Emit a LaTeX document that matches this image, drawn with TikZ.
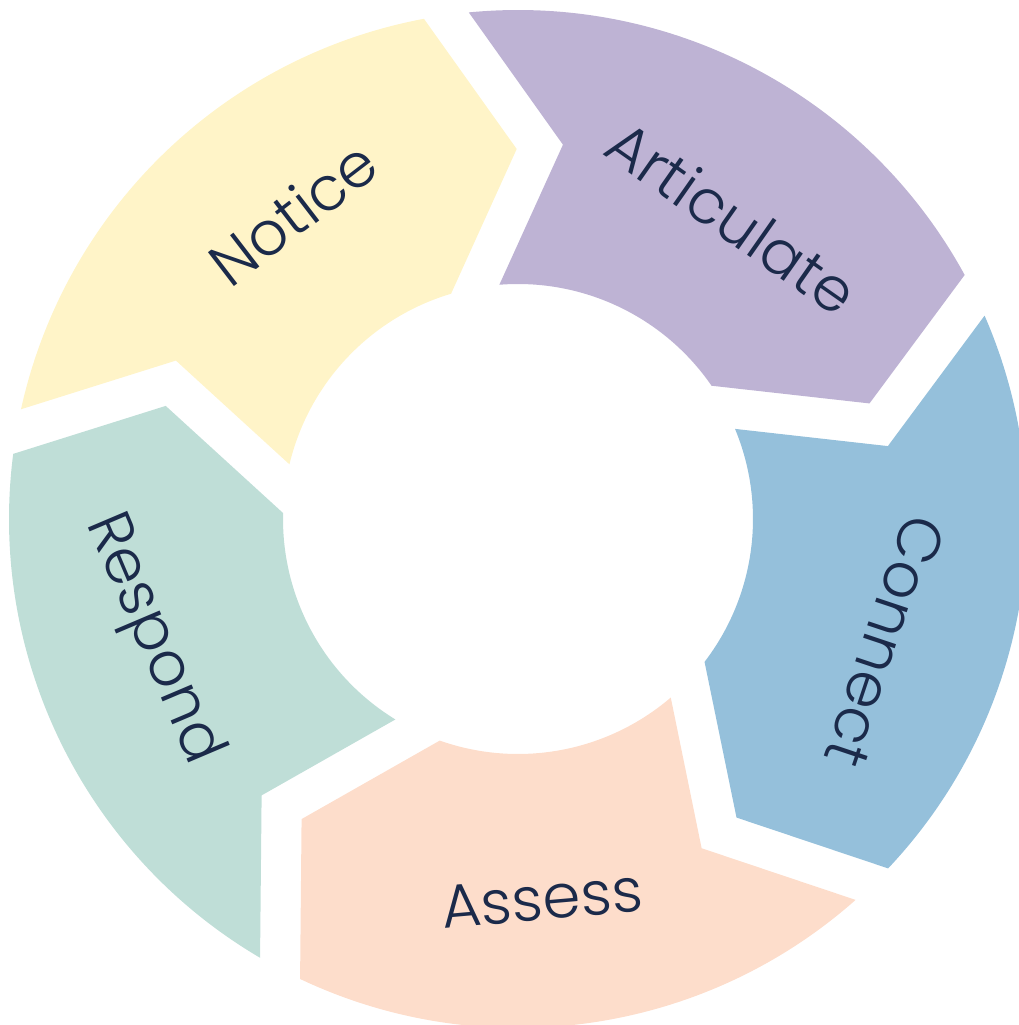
\documentclass[tikz,border=0pt]{standalone}
\usepackage{fontspec}
\setmainfont{Poppins}[UprightFont=* Light]
\definecolor{cN}{HTML}{FFF4C8}
\definecolor{cA}{HTML}{BEB3D4}
\definecolor{cC}{HTML}{95C0DB}
\definecolor{cS}{HTML}{FDDDCB}
\definecolor{cR}{HTML}{BFDED7}
\definecolor{ink}{HTML}{1B2A4A}
\tikzset{
  lbl/.style={text=ink, font=\fontsize{61}{63}\selectfont, inner sep=0pt}
}
\begin{document}
\begin{tikzpicture}[x=1pt,y=1pt]
\useasboundingbox (-518,-506) rectangle (501,519);
\foreach \k/\col in {0/cN,1/cA,2/cC,3/cS,4/cR}{
  \pgfmathsetmacro\t{100.65-72*\k}
  \pgfmathsetmacro\oa{\t+66.9}
  \pgfmathsetmacro\tip{\t-10.45}
  \pgfmathsetmacro\ie{\t+5.9}
  \pgfmathsetmacro\ia{\t+65.9}
  \pgfmathsetmacro\nt{\t+54.5}
  \fill[\col] (\oa:509) arc[start angle=\oa, end angle=\t, radius=509]
    -- (\tip:370) -- (\ie:235)
    arc[start angle=\ie, end angle=\ia, radius=235]
    -- (\nt:377) -- cycle;
}
\node[lbl, rotate=37.5] (notice) at (126.3:380) {Notice};
\node[lbl, rotate=-35] (articulate) at (54.6:370) {Articulate};
\node[lbl, rotate=-108.5] (connect) at (-18.5:387) {Connect};
\node[lbl, rotate=5] (assess) at (-86.4:381) {Assess};
\node[lbl, rotate=-67] (respond) at (-161.8:385) {Respond};
\end{tikzpicture}
\end{document}
